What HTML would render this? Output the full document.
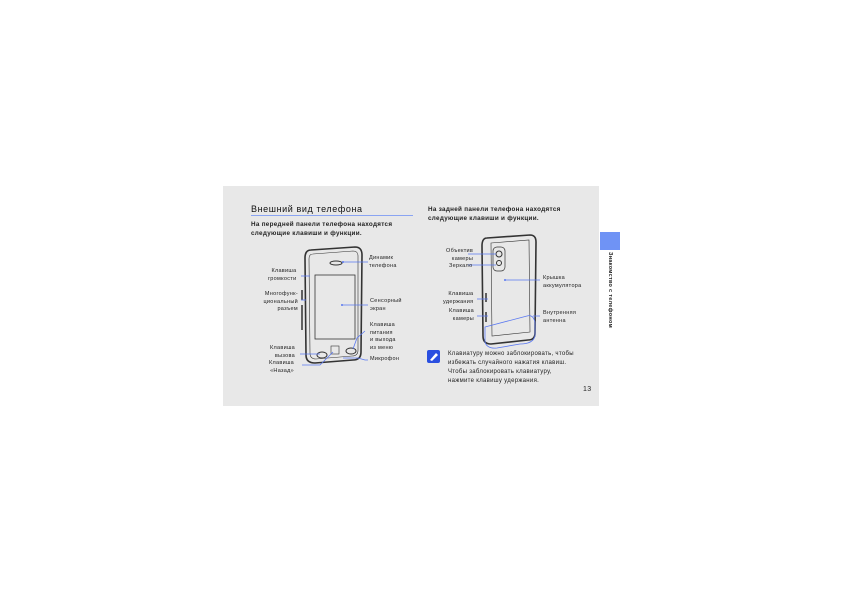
<!DOCTYPE html>
<html><head><meta charset="utf-8"><style>
html,body{margin:0;padding:0;background:#fff;}
body{width:842px;height:595px;position:relative;overflow:hidden;font-family:"Liberation Sans",sans-serif;}
.t{position:absolute;font-size:6px;line-height:7.5px;color:#222;white-space:nowrap;letter-spacing:0.3px}
</style></head><body>
<div style="position:absolute;left:223px;top:186px;width:376px;height:220px;background:#e8e8e8"></div>
<div style="position:absolute;left:600px;top:232px;width:20px;height:18px;background:#6f93f5"></div>
<div class="t" style="left:605px;top:252px;transform-origin:0 0;transform:translate(8px,0) rotate(90deg);font-size:5.5px;font-weight:bold">Знакомство с телефоном</div>
<div class="t" style="left:251px;top:204px;font-size:9px;line-height:11px;color:#111;letter-spacing:0.6px">Внешний вид телефона</div>
<div style="position:absolute;left:251px;top:215px;width:162px;height:1px;background:#8aa4f2"></div>
<div class="t" style="left:251px;top:221px;font-size:6.3px;line-height:8.5px;font-weight:bold">На передней панели телефона находятся<br>следующие клавиши и функции.</div>
<div class="t" style="left:428px;top:206px;font-size:6.3px;line-height:8.5px;font-weight:bold">На задней панели телефона находятся<br>следующие клавиши и функции.</div>

<svg width="842" height="595" style="position:absolute;left:0;top:0">
<g fill="none" stroke="#333" stroke-width="1">
<path d="M311 250 L355 247 Q362 247 362 255 L361 352 Q361 360 353 360 L315 363 Q306 363 306 355 L305 258 Q305 250 311 250Z" stroke-width="1.6"/>
<path d="M313 254 L353 251 Q358 251 358 256 L358 350 Q358 356 352 356 L316 359 Q310 359 310 353 L309 259 Q309 254 313 254Z" stroke-width="0.6"/>
<rect x="315" y="275" width="40" height="64" stroke-width="0.8"/>
<ellipse cx="336" cy="263" rx="6" ry="2"/>
<ellipse cx="322" cy="355" rx="5" ry="3"/>
<ellipse cx="351" cy="351" rx="5" ry="3"/>
<rect x="331" y="346" width="8" height="8" stroke-width="0.6"/>
<path d="M302 290 L302 300 M302 305 L302 330" stroke-width="1.5"/>
<path d="M487 238 L530 235 Q536 235 536 242 L535 333 Q535 340 528 340 L491 344 Q483 344 483 336 L482 246 Q482 238 487 238Z" stroke-width="1.6"/>
<path d="M491 243 L529 240 L530 332 L492 336Z" stroke-width="0.6"/>
<rect x="493" y="247" width="12" height="24" rx="4" stroke-width="0.7"/>
<circle cx="499" cy="254" r="3"/><circle cx="499" cy="263" r="2.5"/>
<path d="M486 293 L486 302 M486 312 L486 322" stroke-width="1.5"/>
</g>
<g stroke="#5a78f0" stroke-width="0.8" fill="none">
<line x1="343" y1="262" x2="368" y2="262"/>
<line x1="301" y1="276" x2="310" y2="276"/>
<line x1="301" y1="300" x2="306" y2="300"/>
<line x1="342" y1="305" x2="368" y2="305"/>
<path d="M365 331 L357 338 L353 349"/>
<path d="M300 354 L320 354"/>
<path d="M302 365 L320 365 L333 352"/>
<path d="M343 358 L358 358 L365 360 L368 360"/>
<line x1="468" y1="254" x2="496" y2="254"/>
<line x1="468" y1="265" x2="496" y2="265"/>
<line x1="505" y1="280" x2="540" y2="280"/>
<line x1="477" y1="299" x2="488" y2="299"/>
<line x1="477" y1="316" x2="488" y2="316"/>
<path d="M485 327 L527 316 Q533 314 535 322 L535 336 Q533 344 520 344 L497 348 Q487 349 485 342Z"/>
<line x1="533" y1="316" x2="540" y2="316"/>
</g>
<g fill="#5a78f0"><circle cx="343" cy="262" r="1"/><circle cx="342" cy="305" r="1"/><circle cx="505" cy="280" r="1"/></g>
<rect x="427" y="350" width="13" height="13" rx="2" fill="#2a4fe0"/>
<path d="M430 360 L436 353 L438 355 L432 361Z" fill="#fff"/>
</svg>

<div class="t" style="left:369px;top:255px;font-size:5.5px">Динамик<br>телефона</div>
<div class="t" style="left:268px;top:268px;font-size:5.5px;text-align:right">Клавиша<br>громкости</div>
<div class="t" style="left:259px;top:291px;font-size:5.5px;text-align:right;width:39px">Многофунк-<br>циональный<br>разъем</div>
<div class="t" style="left:370px;top:298px;font-size:5.5px">Сенсорный<br>экран</div>
<div class="t" style="left:370px;top:322px;font-size:5.5px">Клавиша<br>питания<br>и выхода<br>из меню</div>
<div class="t" style="left:270px;top:345px;font-size:5.5px;text-align:right">Клавиша<br>вызова</div>
<div class="t" style="left:269px;top:360px;font-size:5.5px;text-align:right">Клавиша<br>«Назад»</div>
<div class="t" style="left:370px;top:356px;font-size:5.5px">Микрофон</div>
<div class="t" style="left:446px;top:248px;font-size:5.5px;text-align:right">Объектив<br>камеры</div>
<div class="t" style="left:449px;top:263px;font-size:5.5px">Зеркало</div>
<div class="t" style="left:543px;top:275px;font-size:5.5px">Крышка<br>аккумулятора</div>
<div class="t" style="left:443px;top:291px;font-size:5.5px;text-align:right">Клавиша<br>удержания</div>
<div class="t" style="left:449px;top:308px;font-size:5.5px;text-align:right">Клавиша<br>камеры</div>
<div class="t" style="left:543px;top:310px;font-size:5.5px">Внутренняя<br>антенна</div>
<div class="t" style="left:448px;top:350px;font-size:6px;line-height:9px">Клавиатуру можно заблокировать, чтобы<br>избежать случайного нажатия клавиш.<br>Чтобы заблокировать клавиатуру,<br>нажмите клавишу удержания.</div>
<div class="t" style="left:583px;top:386px;font-size:7px">13</div>
</body></html>
